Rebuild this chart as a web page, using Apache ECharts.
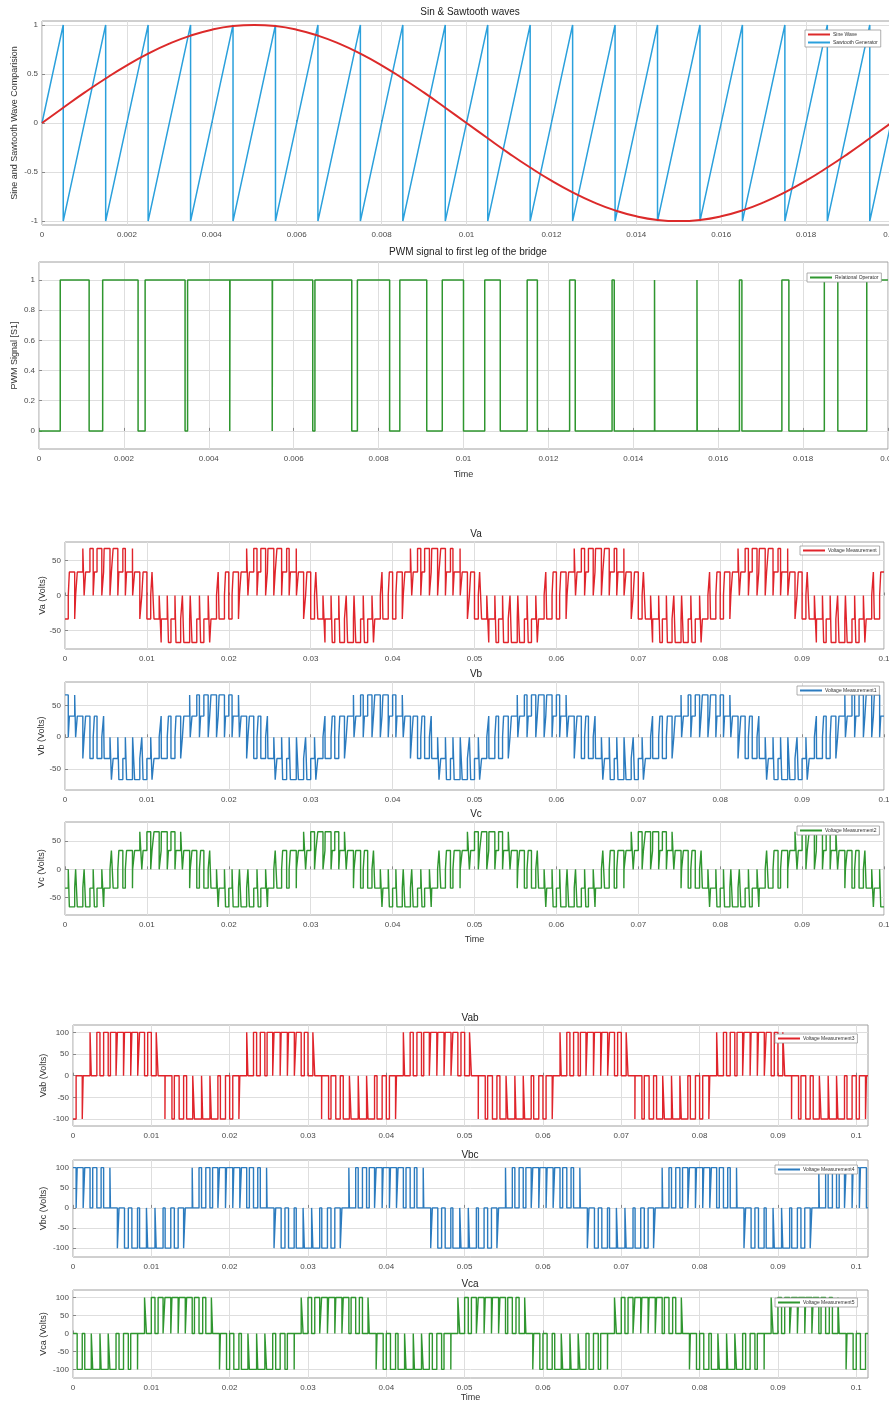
<!DOCTYPE html>
<html><head><meta charset="utf-8">
<script src="https://cdn.jsdelivr.net/npm/echarts@6/dist/echarts.min.js"></script>
<style>html,body{margin:0;padding:0;background:#fff}#c{width:889px;height:1403px}</style>
</head><body><div id="c"></div>
<script>
// ================= DATA =================
// Panel 1: sine reference (time in s) and sawtooth carrier reset instants
const sineTimes  = [0,0.0005,0.001,0.0015,0.002,0.0025,0.003,0.0035,0.004,0.0045,0.005,0.0055,0.006,0.0065,0.007,0.0075,0.008,0.0085,0.009,0.0095,
                    0.010,0.0105,0.011,0.0115,0.012,0.0125,0.013,0.0135,0.014,0.0145,0.015,0.0155,0.016,0.0165,0.017,0.0175,0.018,0.0185,0.019,0.0195,0.020];
const sineValues = [0,0.156,0.309,0.454,0.588,0.707,0.809,0.891,0.951,0.988,1.00,0.988,0.951,0.891,0.809,0.707,0.588,0.454,0.309,0.156,
                    0,-0.156,-0.309,-0.454,-0.588,-0.707,-0.809,-0.891,-0.951,-0.988,-1.00,-0.988,-0.951,-0.891,-0.809,-0.707,-0.588,-0.454,-0.309,-0.156,0];
const sawStart = [0, 0];
const sawEnd   = [0.02, 0];
const sawResetTimes = [0.0005,0.0015,0.0025,0.0035,0.0045,0.0055,0.0065,0.0075,0.0085,0.0095,0.0105,0.0115,0.0125,0.0135,0.0145,0.0155,0.0165,0.0175,0.0185,0.0195];

// Switching: every carrier cycle starts with the leg ON; duty = ON fraction of the cycle.
const carrierStart  = -0.0005;
const carrierPeriod = 0.001;
// leg A (PWM signal to first leg, panel 2), leg B, leg C — one 20-cycle fundamental period, repeated
const dutyA = [0.500,0.681,0.834,0.941,0.994,0.994,0.949,0.868,0.760,0.634,0.500,0.366,0.240,0.132,0.051,0.006,0.006,0.058,0.165,0.318];
const dutyB = [0.898,0.798,0.677,0.545,0.410,0.281,0.166,0.075,0.017,0.001,0.035,0.124,0.263,0.438,0.622,0.788,0.912,0.982,0.999,0.968];
const dutyC = [0.102,0.032,0.001,0.017,0.089,0.212,0.378,0.562,0.737,0.876,0.965,0.999,0.984,0.926,0.834,0.719,0.590,0.455,0.323,0.202];
const dcVoltage = 100;

// tick labels
const xTicksFine   = [0,0.002,0.004,0.006,0.008,0.01,0.012,0.014,0.016,0.018,0.02];
const xTicksCoarse = [0,0.01,0.02,0.03,0.04,0.05,0.06,0.07,0.08,0.09,0.1];
const yTicksSaw    = [-1,-0.5,0,0.5,1];
const yTicksPwm    = [0,0.2,0.4,0.6,0.8,1];
const yTicksPhase  = [-50,0,50];
const yTicksLine   = [-100,-50,0,50,100];

// ================= BUILD =================
const legs = [dutyA, dutyB, dutyC];
function legState(duty, t) {
  const k = Math.floor((t - carrierStart) / carrierPeriod + 1e-9);
  const t0 = carrierStart + k * carrierPeriod;
  return (t - t0) < duty[((k % duty.length) + duty.length) % duty.length] * carrierPeriod ? 1 : 0;
}
function buildStep(fn, tEnd) {
  const times = [0, tEnd];
  legs.forEach(d => {
    for (let k = 0; ; k++) {
      const t0 = carrierStart + k * carrierPeriod;
      if (t0 > tEnd) break;
      const tf = t0 + d[k % d.length] * carrierPeriod;
      if (t0 > 0 && t0 < tEnd) times.push(t0);
      if (tf > 0 && tf < tEnd) times.push(tf);
    }
  });
  times.sort((a, b) => a - b);
  const ts = [];
  times.forEach(t => { if (!ts.length || t - ts[ts.length - 1] > 1e-9) ts.push(t); });
  const pts = [];
  let prev = null;
  for (let i = 0; i < ts.length - 1; i++) {
    const mid = (ts[i] + ts[i + 1]) / 2;
    const v = fn(legState(dutyA, mid), legState(dutyB, mid), legState(dutyC, mid));
    if (prev === null) pts.push([ts[i], v]);
    else if (v !== prev) { pts.push([ts[i], prev]); pts.push([ts[i], v]); }
    prev = v;
  }
  pts.push([tEnd, prev]);
  return pts;
}
const sinePts = sineTimes.map((t, i) => [t, sineValues[i]]);
const sawPts = [sawStart];
sawResetTimes.forEach(r => { sawPts.push([r, 1]); sawPts.push([r, -1]); });
sawPts.push(sawEnd);

const V = dcVoltage;
const pwmPts = buildStep((a) => a, 0.02);
const vaPts  = buildStep((a, b, c) => (2 * a - b - c) * V / 3, 0.1);
const vbPts  = buildStep((a, b, c) => (2 * b - a - c) * V / 3, 0.1);
const vcPts  = buildStep((a, b, c) => (2 * c - a - b) * V / 3, 0.1);
const LLEND = 0.1015;
const vabPts = buildStep((a, b, c) => (a - b) * V, LLEND);
const vbcPts = buildStep((a, b, c) => (b - c) * V, LLEND);
const vcaPts = buildStep((a, b, c) => (c - a) * V, LLEND);

// ================= LAYOUT =================
const FONT = 'Liberation Sans, Arial, sans-serif';
const panels = [
  {grid:{left:42,top:21,width:849,height:204}, xmax:0.02, xt:xTicksFine, ymin:-1.04, ymax:1.04, yt:yTicksSaw,
   title:'Sin & Sawtooth waves', tx:470, ty:7, yname:'Sine and Sawtooth Wave Comparision', ygap:23,
   legend:{left:805,top:30}, names:['Sine Wave','Sawtooth Generator']},
  {grid:{left:39,top:262,width:849,height:187}, xmax:0.02, xt:xTicksFine, ymin:-0.12, ymax:1.12, yt:yTicksPwm,
   title:'PWM signal to first leg of the bridge', tx:468, ty:247, yname:'PWM Signal [S1]', ygap:20, xname:'Time', xgap:21,
   legend:{left:807,top:273}, names:['Relational Operator']},
  {grid:{left:65,top:542,width:819,height:107}, xmax:0.1, xt:xTicksCoarse, ymin:-76, ymax:76, yt:yTicksPhase,
   title:'Va', tx:476, ty:529, yname:'Va (Volts)', ygap:18, legend:{left:800,top:546}, names:['Voltage Measurement']},
  {grid:{left:65,top:682,width:819,height:108}, xmax:0.1, xt:xTicksCoarse, ymin:-83, ymax:87, yt:yTicksPhase,
   title:'Vb', tx:476, ty:669, yname:'Vb (Volts)', ygap:19, legend:{left:797,top:686}, names:['Voltage Measurement1']},
  {grid:{left:65,top:822,width:819,height:93}, xmax:0.1, xt:xTicksCoarse, ymin:-81, ymax:84, yt:yTicksPhase,
   title:'Vc', tx:476, ty:809, yname:'Vc (Volts)', ygap:19, xname:'Time', xgap:20, legend:{left:797,top:826}, names:['Voltage Measurement2']},
  {grid:{left:73,top:1025,width:795,height:101}, xmax:LLEND, xt:xTicksCoarse, ymin:-116, ymax:117, yt:yTicksLine,
   title:'Vab', tx:470, ty:1013, yname:'Vab (Volts)', ygap:25, legend:{left:775,top:1034}, names:['Voltage Measurement3']},
  {grid:{left:73,top:1160,width:795,height:97}, xmax:LLEND, xt:xTicksCoarse, ymin:-122, ymax:119, yt:yTicksLine,
   title:'Vbc', tx:470, ty:1150, yname:'Vbc (Volts)', ygap:25, legend:{left:775,top:1165}, names:['Voltage Measurement4']},
  {grid:{left:73,top:1290,width:795,height:88}, xmax:LLEND, xt:xTicksCoarse, ymin:-124, ymax:121, yt:yTicksLine,
   title:'Vca', tx:470, ty:1279, yname:'Vca (Volts)', ygap:25, xname:'Time', xgap:15, legend:{left:775,top:1298}, names:['Voltage Measurement5']}
];

const fmt = v => String(+(+v).toFixed(4));
const grids = [], xAxes = [], yAxes = [], titles = [], legendsArr = [];
panels.forEach((p, i) => {
  grids.push(Object.assign({show:true, borderColor:'#a0a0a0', borderWidth:1, backgroundColor:'#fff',
    containLabel:false, outerBoundsMode:'none'}, p.grid));
  xAxes.push({type:'value', gridIndex:i, min:0, max:p.xmax,
    axisLine:{show:false}, axisTick:{show:true, inside:true, length:3, lineStyle:{color:'#888'}, customValues:p.xt},
    axisLabel:{fontSize:8, color:'#4a4a4a', fontFamily:FONT, margin:6, formatter:fmt, customValues:p.xt, showMinLabel:true, showMaxLabel:true},
    splitLine:{show:true, lineStyle:{color:'#dedede', width:1}},
    name:p.xname || '', nameLocation:'middle', nameGap:p.xgap || 20, nameMoveOverlap:false,
    nameTextStyle:{fontSize:9, color:'#333', fontFamily:FONT}});
  yAxes.push({type:'value', gridIndex:i, min:p.ymin, max:p.ymax,
    axisLine:{show:false}, axisTick:{show:true, inside:true, length:3, lineStyle:{color:'#888'}, customValues:p.yt},
    axisLabel:{fontSize:8, color:'#4a4a4a', fontFamily:FONT, margin:4, formatter:fmt, customValues:p.yt},
    splitLine:{show:true, lineStyle:{color:'#dedede', width:1}},
    name:p.yname, nameLocation:'middle', nameGap:p.ygap, nameRotate:90, nameMoveOverlap:false,
    nameTextStyle:{fontSize:9, color:'#333', fontFamily:FONT}});
  titles.push({text:p.title, left:p.tx, top:p.ty, textAlign:'center', padding:0,
    textStyle:{fontSize:10, fontWeight:'normal', color:'#222', fontFamily:FONT}});
  legendsArr.push({data:p.names, left:p.legend.left, top:p.legend.top, orient:'vertical',
    icon:'rect', itemWidth:22, itemHeight:2, itemGap:3, padding:[2,3,2,3],
    backgroundColor:'#fff', borderColor:'#999', borderWidth:0.8, selectedMode:false,
    textStyle:{fontSize:5, color:'#333', fontFamily:FONT, padding:[0,0,0,-2]}});
});

const RED = '#e0242b', BLUE = '#2b7bbf', GREEN = '#2f962f';
function line(name, idx, data, color, width, extra) {
  return Object.assign({name, type:'line', xAxisIndex:idx, yAxisIndex:idx, data, showSymbol:false, symbol:'none',
    lineStyle:{color, width}, itemStyle:{color}, animation:false, silent:true, clip:true}, extra || {});
}
const series = [
  line('Sawtooth Generator', 0, sawPts, '#2aa0dc', 1.5),
  line('Sine Wave', 0, sinePts, '#dc2a2a', 2, {smooth:true}),
  line('Relational Operator', 1, pwmPts, GREEN, 1.5),
  line('Voltage Measurement', 2, vaPts, RED, 1.4),
  line('Voltage Measurement1', 3, vbPts, BLUE, 1.4),
  line('Voltage Measurement2', 4, vcPts, GREEN, 1.4),
  line('Voltage Measurement3', 5, vabPts, RED, 1.4),
  line('Voltage Measurement4', 6, vbcPts, BLUE, 1.4),
  line('Voltage Measurement5', 7, vcaPts, GREEN, 1.4)
];

const chart = echarts.init(document.getElementById('c'), null, {renderer:'canvas'});
chart.setOption({
  backgroundColor:'#fff', animation:false,
  title:titles, legend:legendsArr, grid:grids, xAxis:xAxes, yAxis:yAxes, series
});
</script></body></html>
